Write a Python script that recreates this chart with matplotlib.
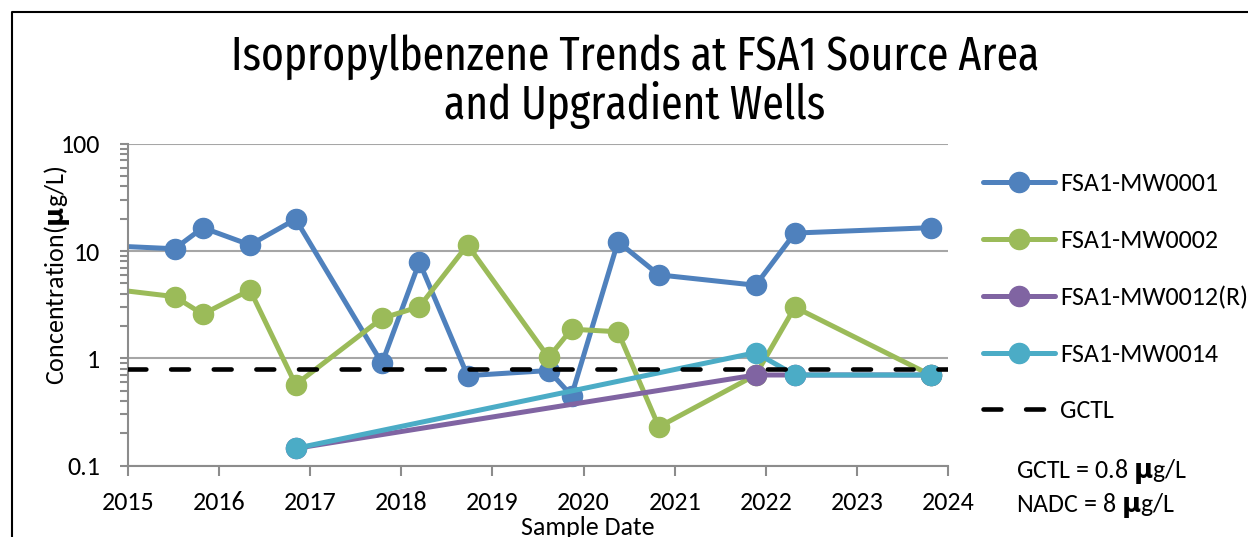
import pandas as pd
import matplotlib.pyplot as plt
import matplotlib.dates as mdates
from matplotlib.lines import Line2D
from matplotlib.ticker import LogLocator, NullFormatter, FixedFormatter, FixedLocator

plt.rcParams['font.family'] = ['Carlito', 'Fira Sans Condensed', 'DejaVu Sans']
plt.rcParams['mathtext.fontset'] = 'custom'
plt.rcParams['mathtext.rm'] = 'Carlito'
plt.rcParams['mathtext.bf'] = 'DejaVu Sans:bold'

# Isopropylbenzene results (ug/L) per well
mw0001_dates = ['2014-10-15', '2015-07-07', '2015-10-28', '2016-05-04', '2016-11-03',
                '2017-10-15', '2018-03-14', '2018-09-23', '2019-08-14', '2019-11-14',
                '2020-05-18', '2020-10-29', '2021-11-21', '2022-04-27', '2023-10-23']
mw0001_vals = [11.2, 10.5, 16.5, 11.4, 19.8, 0.9, 7.9, 0.69, 0.77, 0.45,
               12.2, 6.0, 4.8, 14.7, 16.5]

mw0002_dates = mw0001_dates
mw0002_vals = [4.45, 3.76, 2.58, 4.34, 0.57, 2.36, 3.03, 11.4, 1.02, 1.87,
               1.77, 0.23, 0.7, 3.0, 0.7]

mw0012r_dates = ['2016-11-03', '2021-11-21', '2022-04-27', '2023-10-23']
mw0012r_vals = [0.145, 0.7, 0.7, 0.7]

mw0014_dates = ['2016-11-03', '2021-11-21', '2022-04-27', '2023-10-23']
mw0014_vals = [0.145, 1.13, 0.7, 0.7]

gctl = 0.8
year_labels = ['2015', '2016', '2017', '2018', '2019', '2020', '2021', '2022', '2023', '2024']

series = [
    ('FSA1-MW0001', mw0001_dates, mw0001_vals, '#4F81BD'),
    ('FSA1-MW0002', mw0002_dates, mw0002_vals, '#9BBB59'),
    ('FSA1-MW0012(R)', mw0012r_dates, mw0012r_vals, '#8064A2'),
    ('FSA1-MW0014', mw0014_dates, mw0014_vals, '#4BACC6'),
]

fig = plt.figure(figsize=(12.48, 5.37), dpi=100)
ax = fig.add_axes([128 / 1248, 1 - 465.7 / 537, 820 / 1248, 322 / 537])

for name, d, v, c in series:
    ax.plot(pd.to_datetime(d), v, '-o', color=c, lw=3.6, ms=14.5, label=name,
            solid_capstyle='round', solid_joinstyle='round')

ax.axhline(gctl, color='black', lw=3.3, linestyle=(0, (3.9, 5.4)),
           dash_capstyle='round', label='GCTL', zorder=5)

ax.set_yscale('log')
ax.set_ylim(0.1, 100)
ax.set_xlim(pd.Timestamp('2015-01-01'), pd.Timestamp('2024-01-01'))

year_ticks = [mdates.date2num(pd.Timestamp(y + '-01-01')) for y in year_labels]
ax.xaxis.set_major_locator(FixedLocator(year_ticks))
ax.xaxis.set_major_formatter(FixedFormatter(year_labels))
ax.yaxis.set_major_locator(FixedLocator([0.1, 1, 10, 100]))
ax.yaxis.set_major_formatter(FixedFormatter(['0.1', '1', '10', '100']))
ax.yaxis.set_minor_locator(LogLocator(base=10, subs=range(2, 10)))
ax.yaxis.set_minor_formatter(NullFormatter())

ax.grid(axis='y', which='major', color='#A6A6A6', lw=1.5)
ax.set_axisbelow(True)
for s in ['top', 'right']:
    ax.spines[s].set_visible(False)
for s in ['left', 'bottom']:
    ax.spines[s].set_color('#8C8C8C')
    ax.spines[s].set_linewidth(1.5)
ax.tick_params(axis='both', which='both', colors='#8C8C8C', width=1.5, direction='out')
ax.tick_params(axis='x', length=7, labelsize=18.7, labelcolor='black', pad=11)
ax.tick_params(axis='y', which='major', length=6, labelsize=18.7, labelcolor='black', pad=14)
ax.tick_params(axis='y', which='minor', length=6)

title_font = ['Fira Sans Extra Condensed', 'Fira Sans Condensed', 'DejaVu Sans']
fig.text(635 / 1248, 1 - 57 / 537, 'Isopropylbenzene Trends at FSA1 Source Area',
         ha='center', va='center', fontsize=34, family=title_font)
fig.text(635 / 1248, 1 - 105 / 537, 'and Upgradient Wells',
         ha='center', va='center', fontsize=34, family=title_font)

fig.text(57 / 1248, 1 - 275 / 537, r'Concentration($\mathbf{μ}$g/L)', rotation=90,
         ha='center', va='center', fontsize=18.7)
fig.text(588 / 1248, 1 - 535 / 537, 'Sample Date', ha='center', va='baseline', fontsize=18.7)

fig.text(1016 / 1248, 1 - 472 / 537, r'GCTL = 0.8 $\mathbf{μ}$g/L', ha='left', va='center', fontsize=18.7)
fig.text(1016 / 1248, 1 - 505 / 537, r'NADC = 8 $\mathbf{μ}$g/L', ha='left', va='center', fontsize=18.7)

fig.legend(loc='upper left', bbox_to_anchor=(983 / 1248, 1 - 172 / 537), frameon=False,
           fontsize=18.7, borderpad=0, borderaxespad=0, handlelength=2.76,
           handletextpad=0.2, labelspacing=1.3)

# outer chart frame
fig.add_artist(Line2D([11.5 / 1248, 11.5 / 1248, 1], [0, 1 - 11.7 / 537, 1 - 11.7 / 537],
                      transform=fig.transFigure, color='black', lw=1.5))

fig.savefig('out.png', dpi=100)
